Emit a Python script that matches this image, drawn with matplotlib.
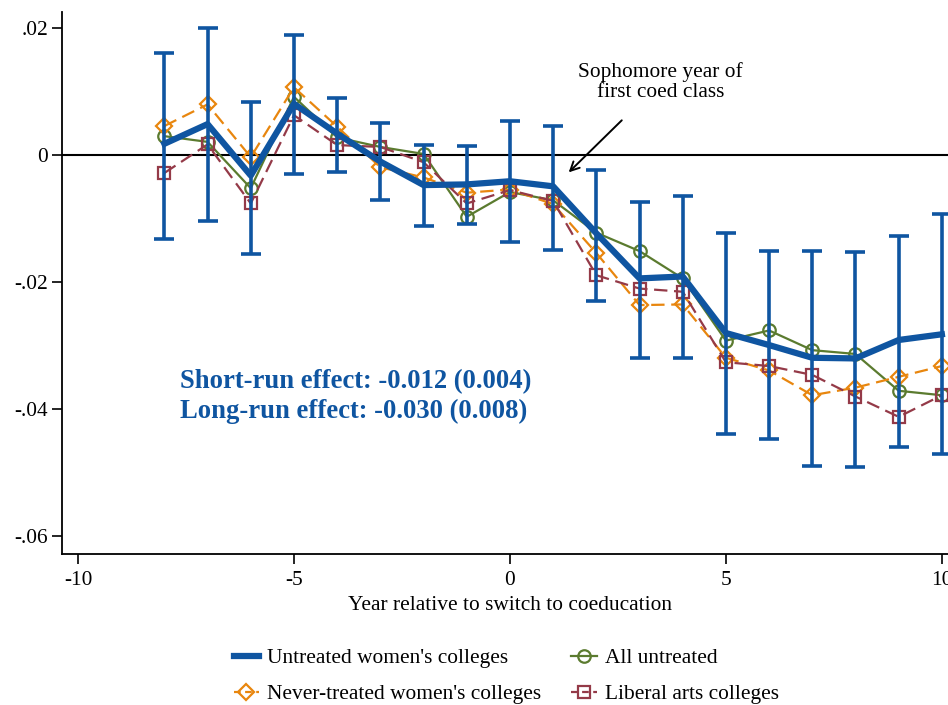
import numpy as np
import matplotlib.pyplot as plt
from matplotlib.lines import Line2D


years = np.arange(-8, 11)

# untreated women's colleges: point estimates and 95% CI
untreated_wc = [0.0018, 0.0049, -0.0032, 0.0081, 0.0034, -0.0010, -0.0047, -0.0046, -0.0041, -0.0049,
                -0.0123, -0.0194, -0.0191, -0.0280, -0.0299, -0.0319, -0.0320, -0.0291, -0.0282]
ci_low = [-0.0132, -0.0103, -0.0155, -0.0029, -0.0026, -0.0071, -0.0112, -0.0109, -0.0137, -0.0149,
          -0.0230, -0.0320, -0.0320, -0.0439, -0.0447, -0.0489, -0.0491, -0.0459, -0.0471]
ci_high = [0.0161, 0.0200, 0.0084, 0.0190, 0.0090, 0.0051, 0.0016, 0.0014, 0.0054, 0.0046,
           -0.0024, -0.0074, -0.0065, -0.0123, -0.0151, -0.0151, -0.0152, -0.0127, -0.0092]

all_untreated = [0.0030, 0.0021, -0.0052, 0.0092, 0.0028, 0.0013, 0.0002, -0.0097, -0.0058, -0.0071,
                 -0.0122, -0.0151, -0.0194, -0.0292, -0.0276, -0.0307, -0.0313, -0.0371, -0.0378]
never_treated_wc = [0.0046, 0.0080, -0.0003, 0.0107, 0.0045, -0.0019, -0.0035, -0.0059, -0.0054, -0.0077,
                    -0.0154, -0.0236, -0.0235, -0.0319, -0.0339, -0.0378, -0.0366, -0.0349, -0.0332]
liberal_arts = [-0.0028, 0.0017, -0.0076, 0.0063, 0.0016, 0.0013, -0.0011, -0.0076, -0.0055, -0.0072,
                -0.0189, -0.0210, -0.0215, -0.0326, -0.0332, -0.0346, -0.0380, -0.0412, -0.0378]

x_ticks = [-10, -5, 0, 5, 10]
y_ticks = [0.02, 0, -0.02, -0.04, -0.06]
y_ticklabels = ['.02', '0', '-.02', '-.04', '-.06']

blue = '#0f55a1'
green = '#5b7b2f'
orange = '#e8860e'
maroon = '#943a48'

plt.rcParams['font.family'] = ['Liberation Serif', 'DejaVu Serif']
plt.rcParams['axes.unicode_minus'] = False

fs = 15.4

fig = plt.figure(figsize=(9.48, 7.05), dpi=100)
ax = fig.add_axes([0.0654, 0.2142, 0.945, 0.7692])

ax.axhline(0, color='black', lw=1.5, zorder=1)

ax.plot(years, all_untreated, color=green, lw=1.6, marker='o', ms=9, mfc='none', mew=1.6, zorder=3)
ax.plot(years, never_treated_wc, color=orange, lw=1.6, ls=(0, (6, 3)), marker='D', ms=8.5,
        mfc='none', mew=1.6, zorder=3)
ax.plot(years, liberal_arts, color=maroon, lw=1.6, ls=(0, (6, 3)), marker='s', ms=8.5,
        mfc='none', mew=1.6, zorder=3)

yerr = [np.array(untreated_wc) - np.array(ci_low), np.array(ci_high) - np.array(untreated_wc)]
ax.errorbar(years, untreated_wc, yerr=yerr, fmt='none', ecolor=blue, elinewidth=2.6,
            capsize=7, capthick=2.6, zorder=4)
ax.plot(years, untreated_wc, color=blue, lw=4.5, zorder=5)

ax.set_xlim(-10.37, 10.37)
ax.set_ylim(-0.0628, 0.0226)
ax.set_xticks(x_ticks)
ax.set_yticks(y_ticks)
ax.set_yticklabels(y_ticklabels)
ax.tick_params(direction='out', length=7, width=1.2, labelsize=fs, color='black')
ax.tick_params(axis='x', pad=5)
ax.tick_params(axis='y', pad=3)
for s in ['top', 'right']:
    ax.spines[s].set_visible(False)
for s in ['left', 'bottom']:
    ax.spines[s].set_linewidth(1.3)

ax.set_xlabel('Year relative to switch to coeducation', fontsize=fs, labelpad=4.5)

ax.text(-7.64, -0.0357, 'Short-run effect: -0.012 (0.004)', color=blue, fontsize=19.2,
        fontweight='bold', va='center', ha='left')
ax.text(-7.64, -0.0404, 'Long-run effect: -0.030 (0.008)', color=blue, fontsize=19.2,
        fontweight='bold', va='center', ha='left')

ax.annotate('Sophomore year of\nfirst coed class', xy=(1.36, -0.0027), xytext=(3.49, 0.0115),
            ha='center', va='center', fontsize=fs, linespacing=1.05,
            arrowprops=dict(arrowstyle='->', color='black', lw=1.4, shrinkA=16, shrinkB=0,
                            mutation_scale=16))

handles = [
    Line2D([], [], color=blue, lw=4.5),
    Line2D([], [], color=orange, lw=1.6, ls=(0, (3, 2)), marker='D', ms=8.5, mfc='none', mew=1.6),
    Line2D([], [], color=green, lw=1.6, marker='o', ms=9, mfc='none', mew=1.6),
    Line2D([], [], color=maroon, lw=1.6, ls=(0, (3, 2)), marker='s', ms=8.5, mfc='none', mew=1.6),
]
labels = ["Untreated women's colleges", "Never-treated women's colleges",
          'All untreated', 'Liberal arts colleges']
fig.legend(handles, labels, ncol=2, loc='center', bbox_to_anchor=(0.534, 0.0405), frameon=False,
           fontsize=fs, handlelength=1.2, handletextpad=0.37, columnspacing=1.4, labelspacing=0.75)

fig.savefig('out.png', dpi=100)
